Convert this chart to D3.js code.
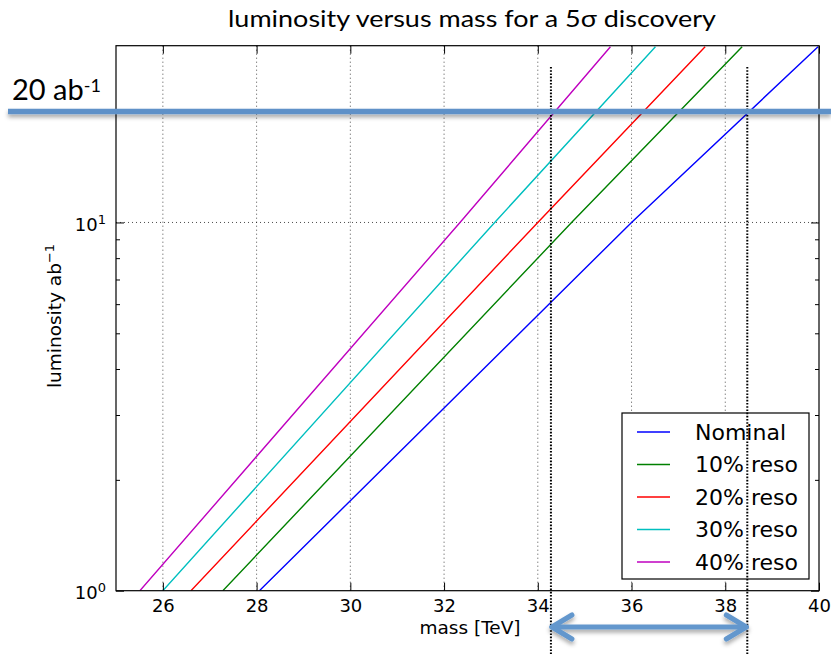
<!DOCTYPE html>
<html>
<head>
<meta charset="utf-8">
<script src="https://cdn.jsdelivr.net/npm/d3@7/dist/d3.min.js"></script>
<style>
  html, body { margin: 0; padding: 0; background: #fff; }
  svg { display: block; }
  .axis path, .axis line { stroke: #000; }
  .axis text { font-family: "DejaVu Sans", sans-serif; font-size: 18px; fill: #000; }
</style>
</head>
<body>
<svg id="chart" width="831" height="654"></svg>
<script>
// Luminosity levels at which each curve's mass was read
const lumLevels = [1, 10, 30];
// Mass [TeV] reaching each luminosity level, per resolution scenario
const seriesNames = ["Nominal", "10% reso", "20% reso", "30% reso", "40% reso"];
const nominal = [28.06, 36.0, 39.98];
const reso10  = [27.28, 34.72, 38.36];
const reso20  = [26.6, 34.0, 37.57];
const reso30  = [26.0, 33.08, 36.51];
const reso40  = [25.51, 32.34, 35.55];
const seriesColors = ["#0000ff", "#008000", "#ff0000", "#00bfbf", "#bf00bf"];

// Axis ticks
const xTicks = [26, 28, 30, 32, 34, 36, 38, 40];
const xGrid = [26, 28, 30, 32, 34, 36, 38];
const yMajor = [1, 10];
const yMinor = [2, 3, 4, 5, 6, 7, 8, 9, 20];

// Target luminosity and the mass reach band it gives
const targetLumi = 20;
const reachMass = [34.28, 38.47];

const svg = d3.select("#chart");
const plotLeft = 116, plotRight = 819, plotTop = 45.7, plotBottom = 590.7;

const x = d3.scaleLinear().domain([25, 40]).range([plotLeft, plotRight]);
const y = d3.scaleLog().domain([1, 30.2]).range([plotBottom, plotTop]);

const defs = svg.append("defs");
defs.append("clipPath").attr("id", "plotClip")
  .append("rect").attr("x", plotLeft).attr("y", plotTop)
  .attr("width", plotRight - plotLeft).attr("height", plotBottom - plotTop);
const shadow = defs.append("filter").attr("id", "softShadow")
  .attr("filterUnits", "userSpaceOnUse")
  .attr("x", 0).attr("y", 0).attr("width", 831).attr("height", 654);
shadow.append("feDropShadow").attr("dx", 0).attr("dy", 3)
  .attr("stdDeviation", 2.2).attr("flood-color", "#000").attr("flood-opacity", 0.35);

// Title
svg.append("text")
  .attr("x", 472).attr("y", 27)
  .attr("text-anchor", "middle")
  .attr("textLength", 488).attr("lengthAdjust", "spacingAndGlyphs")
  .style("font-family", "Lato, 'Open Sans', sans-serif")
  .style("font-size", "23px")
  .text("luminosity versus mass for a 5σ discovery");

// Grid
const grid = svg.append("g");
grid.selectAll(".vg").data(xGrid).enter().append("line")
  .attr("x1", d => x(d)).attr("x2", d => x(d))
  .attr("y1", plotTop).attr("y2", plotBottom)
  .attr("stroke", "#000").attr("stroke-width", 0.7)
  .attr("stroke-dasharray", "1,3");
grid.selectAll(".hg").data([10]).enter().append("line")
  .attr("x1", plotLeft).attr("x2", plotRight)
  .attr("y1", d => y(d)).attr("y2", d => y(d))
  .attr("stroke", "#000").attr("stroke-width", 0.7)
  .attr("stroke-dasharray", "1,3");

// Curves
const allSeries = [nominal, reso10, reso20, reso30, reso40];
const line = d3.line().x(d => x(d[0])).y(d => y(d[1]));
svg.append("g").attr("clip-path", "url(#plotClip)")
  .selectAll("path").data(allSeries).enter().append("path")
  .attr("d", s => line(s.map((m, i) => [m, lumLevels[i]])))
  .attr("fill", "none")
  .attr("stroke", (d, i) => seriesColors[i])
  .attr("stroke-width", 1.4);

// Axes (ticks pointing inward on all four sides)
svg.append("g").attr("class", "axis")
  .attr("transform", `translate(0,${plotBottom})`)
  .call(d3.axisBottom(x).tickValues(xTicks).tickSize(-8).tickPadding(9).tickFormat(d3.format("d")))
  .call(g => g.select(".domain").remove());
svg.append("g").attr("class", "axis")
  .attr("transform", `translate(0,${plotTop})`)
  .call(d3.axisTop(x).tickValues(xTicks).tickSize(-8).tickFormat(""))
  .call(g => g.select(".domain").remove());

const yMajorAxis = svg.append("g").attr("class", "axis")
  .attr("transform", `translate(${plotLeft},0)`)
  .call(d3.axisLeft(y).tickValues(yMajor).tickSize(-8).tickPadding(10).tickFormat(""));
yMajorAxis.select(".domain").remove();
yMajorAxis.selectAll(".tick text").each(function (d) {
  const t = d3.select(this).attr("dy", "0.45em");
  t.append("tspan").text("10");
  t.append("tspan").attr("dy", "-0.55em").style("font-size", "13px")
    .text(Math.round(Math.log10(d)));
});
svg.append("g").attr("class", "axis")
  .attr("transform", `translate(${plotLeft},0)`)
  .call(d3.axisLeft(y).tickValues(yMinor).tickSize(-4).tickFormat(""))
  .call(g => g.select(".domain").remove());
svg.append("g").attr("class", "axis")
  .attr("transform", `translate(${plotRight},0)`)
  .call(d3.axisRight(y).tickValues(yMajor).tickSize(-8).tickFormat(""))
  .call(g => g.select(".domain").remove());
svg.append("g").attr("class", "axis")
  .attr("transform", `translate(${plotRight},0)`)
  .call(d3.axisRight(y).tickValues(yMinor).tickSize(-4).tickFormat(""))
  .call(g => g.select(".domain").remove());

// Frame
svg.append("rect")
  .attr("x", plotLeft).attr("y", plotTop)
  .attr("width", plotRight - plotLeft).attr("height", plotBottom - plotTop)
  .attr("fill", "none").attr("stroke", "#000").attr("stroke-width", 1.2);

// Axis labels
svg.append("text")
  .attr("x", 470).attr("y", 634)
  .attr("text-anchor", "middle")
  .style("font-family", "DejaVu Sans, sans-serif").style("font-size", "18.5px")
  .text("mass [TeV]");
const yl = svg.append("text")
  .attr("transform", "translate(61,316) rotate(-90)")
  .attr("text-anchor", "middle")
  .style("font-family", "DejaVu Sans, sans-serif").style("font-size", "18.5px");
yl.append("tspan").text("luminosity ab");
yl.append("tspan").attr("dy", "-0.55em").style("font-size", "13px").text("−1");

// Legend
const legend = svg.append("g");
legend.append("rect")
  .attr("x", 622).attr("y", 413).attr("width", 187).attr("height", 166)
  .attr("fill", "#fff").attr("stroke", "#000").attr("stroke-width", 1.2);
const rowY = d3.scalePoint().domain(seriesNames).range([432, 562]);
const entries = legend.selectAll(".entry").data(seriesNames).enter().append("g");
entries.append("line")
  .attr("x1", 637).attr("x2", 670)
  .attr("y1", d => rowY(d)).attr("y2", d => rowY(d))
  .attr("stroke", (d, i) => seriesColors[i]).attr("stroke-width", 1.4);
entries.append("text")
  .attr("x", 695).attr("y", d => rowY(d)).attr("dy", "0.36em")
  .style("font-family", "DejaVu Sans, sans-serif").style("font-size", "22px")
  .text(d => d);

// Mass reach markers
svg.selectAll(".reach").data(reachMass).enter().append("line")
  .attr("x1", d => x(d)).attr("x2", d => x(d))
  .attr("y1", 67).attr("y2", 654)
  .attr("stroke", "#000").attr("stroke-width", 2)
  .attr("stroke-dasharray", "1.6,1.6");

// Target luminosity line
const targetY = y(targetLumi);
svg.append("line")
  .attr("x1", 8).attr("x2", 831)
  .attr("y1", targetY).attr("y2", targetY)
  .attr("stroke", "#5e91c8").attr("stroke-width", 5.5)
  .attr("filter", "url(#softShadow)");
const tl = svg.append("text")
  .attr("x", 12).attr("y", 100)
  .style("font-family", "Lato, 'Open Sans', sans-serif").style("font-size", "29px");
tl.append("tspan").text("20 ab");
tl.append("tspan").attr("dy", "-0.45em").style("font-size", "18px").text("-1");

// Reach band double arrow
const ay = 627;
const ax0 = x(reachMass[0]) + 1, ax1 = x(reachMass[1]) - 1;
const arrow = svg.append("g").attr("filter", "url(#softShadow)")
  .attr("stroke", "#6397cd").attr("stroke-width", 5).attr("fill", "none")
  .attr("stroke-linecap", "round").attr("stroke-linejoin", "round");
arrow.append("line").attr("x1", ax0).attr("x2", ax1).attr("y1", ay).attr("y2", ay);
arrow.append("path").attr("d", `M${ax0 + 20},${ay - 12} L${ax0},${ay} L${ax0 + 20},${ay + 12}`);
arrow.append("path").attr("d", `M${ax1 - 20},${ay - 12} L${ax1},${ay} L${ax1 - 20},${ay + 12}`);
</script>
</body>
</html>
